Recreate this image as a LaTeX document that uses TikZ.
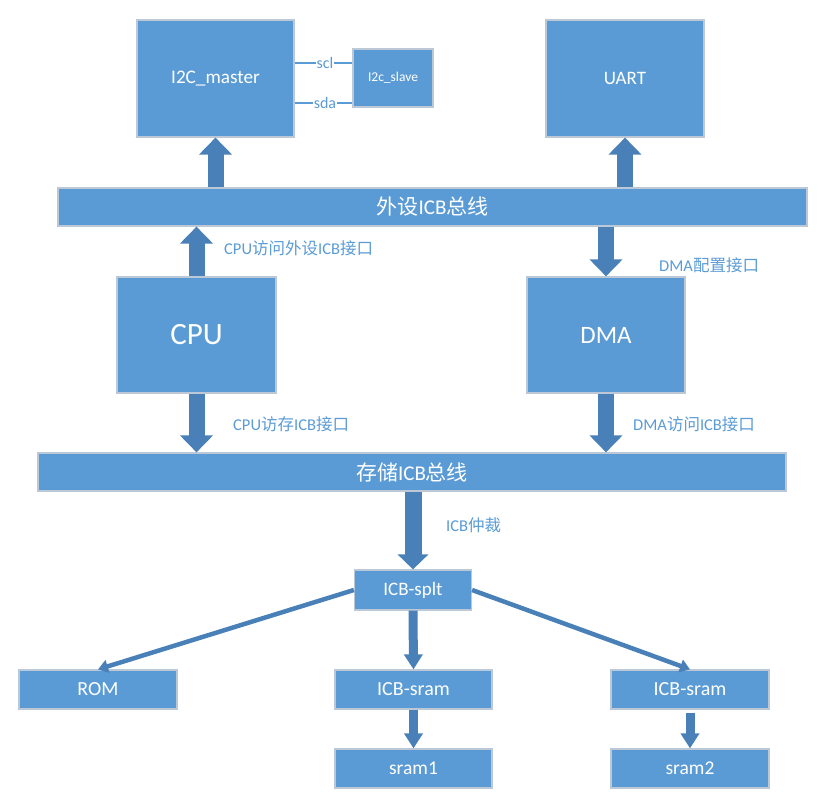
\documentclass[tikz,border=0pt]{standalone}
\usepackage{fontspec}
\setmainfont{Carlito}
\newfontfamily\cjk{Noto Sans CJK SC}
\usetikzlibrary{arrows.meta}
\definecolor{boxfill}{HTML}{5B9BD5}
\definecolor{boxline}{HTML}{BCC8D6}
\definecolor{arrowc}{HTML}{4A80B8}
\definecolor{lblc}{HTML}{5B9BD5}
\newcommand{\fs}[1]{\fontsize{#1}{#1}\selectfont}
\tikzset{
  blk/.style={fill=boxfill, draw=boxline, line width=1.2pt, text=white, inner sep=0pt, align=center},
  lbl/.style={text=lblc, inner sep=0pt, anchor=west, font=\fs{16.5}},
  fat/.style={arrowc, line width=16pt, -{Triangle[width=32pt,length=17pt]}},
  mid/.style={arrowc, line width=9pt, -{Triangle[width=18pt,length=15pt]}},
  thin/.style={arrowc, line width=4.5pt, -{Triangle[width=13pt,length=10pt]}},
  sig/.style={lblc, line width=1.3pt},
  siglbl/.style={fill=white, text=lblc, inner sep=1pt, font=\fs{16}}
}
\begin{document}
\begin{tikzpicture}[x=1pt, y=-1pt]
\useasboundingbox (0,0) rectangle (839,800);
% boxes
\node[blk, minimum width=157pt, minimum height=117pt, font=\fs{19.2}] (i2cm) at (215.5,78.5) {I2C\_{}master};
\node[blk, minimum width=80pt, minimum height=58pt, font=\fs{13.5}] (slave) at (393,78) {I2c\_{}slave};
\node[blk, minimum width=158pt, minimum height=117pt, font=\fs{19}] (uart) at (625,78.5) {UART};
\node[blk, minimum width=749pt, minimum height=38pt, font=\fs{21}] (pbus) at (432.5,207) {{\cjk 外设}ICB{\cjk 总线}};
\node[blk, minimum width=159pt, minimum height=116pt, font=\fs{31}] (cpu) at (196.5,335) {CPU};
\node[blk, minimum width=158pt, minimum height=116pt, font=\fs{25}] (dma) at (606,335) {DMA};
\node[blk, minimum width=748pt, minimum height=38pt, font=\fs{21}] (mbus) at (412,472) {{\cjk 存储}ICB{\cjk 总线}};
\node[blk, minimum width=117pt, minimum height=40pt, font=\fs{19}] (splt) at (413,590) {ICB-splt};
\node[blk, minimum width=158pt, minimum height=39pt, font=\fs{20}] (rom) at (98,689.5) {ROM};
\node[blk, minimum width=157pt, minimum height=39pt, font=\fs{20}] (isram1) at (413.5,689.5) {ICB-sram};
\node[blk, minimum width=158pt, minimum height=39pt, font=\fs{20}] (isram2) at (690,689.5) {ICB-sram};
\node[blk, minimum width=157pt, minimum height=39pt, font=\fs{19.5}] (sram1) at (413.5,768.5) {sram1};
\node[blk, minimum width=158pt, minimum height=39pt, font=\fs{19.5}] (sram2) at (690,768.5) {sram2};
% i2c signals
\coordinate (sclc) at (325,63);
\coordinate (sdac) at (325,103);
\draw[sig] (i2cm.east |- sclc) -- (slave.west |- sclc);
\draw[sig] (i2cm.east |- sdac) -- (slave.west |- sdac);
\node[siglbl] (scl) at (sclc) {scl};
\node[siglbl] (sda) at (sdac) {sda};
% fat arrows
\draw[fat] (pbus.north -| i2cm.south) -- (i2cm.south);
\draw[fat] (pbus.north -| uart.south) -- (uart.south);
\draw[fat] (cpu.north) -- (cpu.north |- pbus.south);
\draw[fat] (dma.north |- pbus.south) -- (dma.north);
\draw[fat] (cpu.south) -- (cpu.south |- mbus.north);
\draw[fat] (dma.south) -- (dma.south |- mbus.north);
\draw[arrowc, line width=17pt, -{Triangle[width=30pt,length=15pt]}] (splt.north |- mbus.south) -- (splt.north);
% thin arrows
\draw[thin] (splt.west) -- (rom.north);
\draw[thin] (splt.east) -- (isram2.north);
\draw[mid] (splt.south) -- (isram1.north);
\draw[mid] (isram1.south) -- (sram1.north);
\draw[mid, shorten <=3pt] (isram2.south) -- (sram2.north);
% labels
\node[lbl] (l1) at (224,248) {CPU{\cjk 访问外设}ICB{\cjk 接口}};
\node[lbl] (l2) at (659,265) {DMA{\cjk 配置接口}};
\node[lbl] (l3) at (233,424) {CPU{\cjk 访存}ICB{\cjk 接口}};
\node[lbl] (l4) at (633,424) {DMA{\cjk 访问}ICB{\cjk 接口}};
\node[lbl] (l5) at (446,525) {ICB{\cjk 仲裁}};
\end{tikzpicture}
\end{document}
